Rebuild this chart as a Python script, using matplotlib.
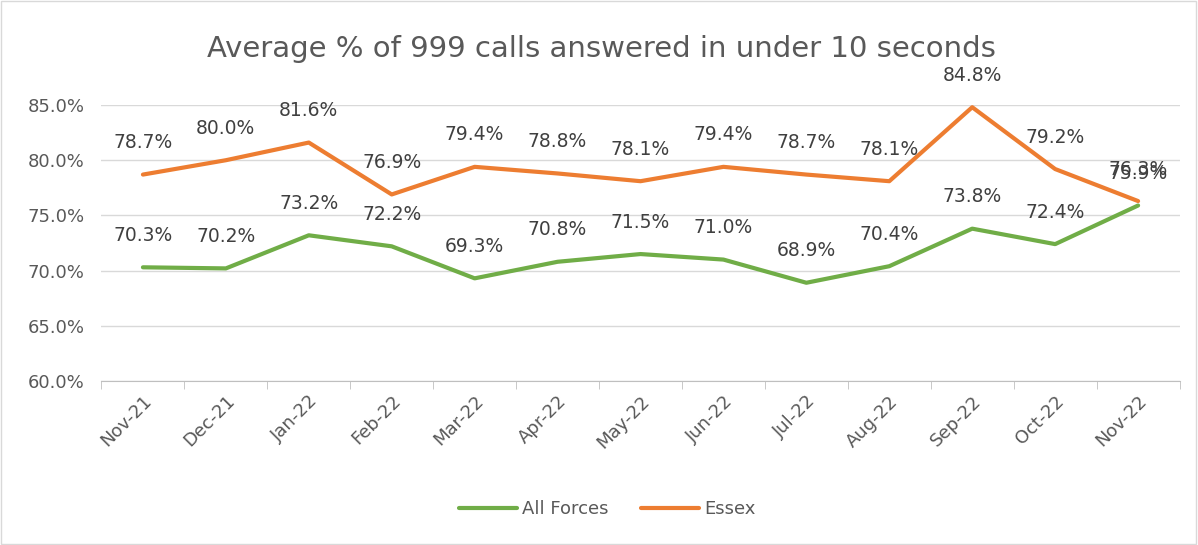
import numpy as np
import matplotlib.pyplot as plt
from matplotlib.patches import Rectangle
from matplotlib.ticker import FuncFormatter

months = ["Nov-21", "Dec-21", "Jan-22", "Feb-22", "Mar-22", "Apr-22", "May-22",
          "Jun-22", "Jul-22", "Aug-22", "Sep-22", "Oct-22", "Nov-22"]
all_forces = [70.3, 70.2, 73.2, 72.2, 69.3, 70.8, 71.5, 71.0, 68.9, 70.4, 73.8, 72.4, 75.9]
essex = [78.7, 80.0, 81.6, 76.9, 79.4, 78.8, 78.1, 79.4, 78.7, 78.1, 84.8, 79.2, 76.3]

green = "#70AD47"
orange = "#ED7D31"

fig = plt.figure(figsize=(11.98, 5.45), dpi=100)
ax = fig.add_axes([0.0847, 0.3009, 0.8999, 0.5064])
fig.patches.append(Rectangle((0.001, 0.001), 0.997, 0.997, transform=fig.transFigure,
                             fill=False, edgecolor="#d9d9d9", linewidth=1))

x = np.arange(len(months))
ax.plot(x, all_forces, color=green, lw=3, solid_capstyle="round", label="All Forces", zorder=3)
ax.plot(x, essex, color=orange, lw=3, solid_capstyle="round", label="Essex", zorder=3)

# data labels above each point (Nov-22 labels overlap, as in the original)
for xs, ys in [(x, all_forces), (x, essex)]:
    for xi, yi in zip(xs, ys):
        ax.annotate("%.1f%%" % yi, (xi, yi), xytext=(0, 23), textcoords="offset points",
                    ha="center", va="center", fontsize=13.5, color="#404040")

ax.set_xlim(-0.5, len(months) - 0.5)
ax.set_ylim(60, 85)
ax.set_yticks(np.arange(60, 86, 5))
ax.yaxis.set_major_formatter(FuncFormatter(lambda v, p: "%.1f%%" % v))
ax.set_xticks(x)
ax.set_xticklabels(months, rotation=45, ha="right", rotation_mode="anchor")
ax.set_xticks(np.arange(-0.5, len(months), 1), minor=True)
ax.tick_params(axis="x", which="major", length=0, pad=8, labelsize=13, labelcolor="#595959")
ax.tick_params(axis="x", which="minor", length=6, color="#bfbfbf", direction="out")
ax.tick_params(axis="y", length=0, pad=12, labelsize=13, labelcolor="#595959")

ax.grid(axis="y", color="#d9d9d9", lw=1)
ax.set_axisbelow(True)
for s in ["top", "right", "left"]:
    ax.spines[s].set_visible(False)
ax.spines["bottom"].set_color("#bfbfbf")

fig.text(0.502, 0.91, "Average % of 999 calls answered in under 10 seconds",
         ha="center", va="center", fontsize=21, color="#595959")

fig.legend(loc="center", bbox_to_anchor=(0.507, 0.066), ncol=2, frameon=False,
           fontsize=13, labelcolor="#595959", handlelength=3.2, handletextpad=0.3,
           columnspacing=1.8)

fig.savefig("out.png", dpi=100)
